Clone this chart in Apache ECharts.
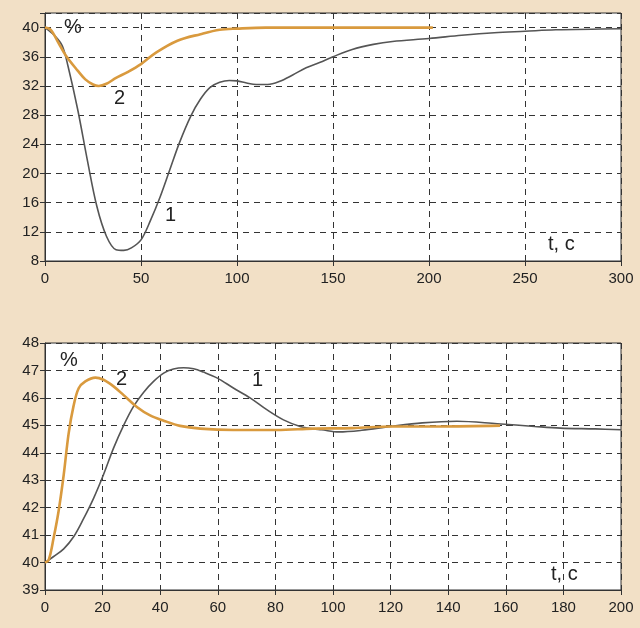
<!DOCTYPE html>
<html>
<head>
<meta charset="utf-8">
<script src="https://cdn.jsdelivr.net/npm/echarts@6/dist/echarts.min.js"></script>
<style>
  html, body { margin: 0; padding: 0; background: #f2e0c6; }
  #chart { width: 640px; height: 628px; }
</style>
</head>
<body>
<div id="chart"></div>
<script>
// top chart: drop from 40 %
var topT1 = [0, 5, 9, 12, 17, 22, 27, 32, 37, 41, 45, 50, 55, 60, 65, 70, 76, 81, 86, 91, 96, 100, 105, 110, 116, 122, 129, 136, 143, 150, 160, 171, 181, 200, 217, 234, 250, 266, 300];
var topY1 = [40, 38.9, 37.5, 34.7, 28.8, 21.9, 15.5, 11.4, 9.55, 9.46, 9.8, 10.9, 13.6, 16.8, 20.5, 24.2, 27.9, 30.2, 31.8, 32.5, 32.75, 32.7, 32.4, 32.2, 32.2, 32.6, 33.5, 34.5, 35.2, 36.0, 37.0, 37.7, 38.1, 38.5, 38.95, 39.3, 39.5, 39.7, 39.85];
var topT2 = [0, 3, 7, 11, 17, 21, 25, 28, 32, 37, 43, 50, 58, 69, 81, 91, 100, 115, 150, 202];
var topY2 = [40, 39.7, 37.9, 36.1, 34.1, 32.9, 32.2, 32.0, 32.3, 33.1, 33.9, 35.0, 36.6, 38.2, 39.1, 39.7, 39.86, 40, 40, 40];

// bottom chart: rise from 40 %
var botT1 = [0, 3, 6.5, 10, 13.4, 16.9, 20.3, 23.8, 27.3, 30.8, 34.2, 37.7, 41.2, 44.6, 48.1, 51.6, 55, 59.7, 65.4, 71.2, 77, 82.8, 88.6, 93.2, 96, 102, 110, 120, 131, 143, 157, 170, 179, 191, 200];
var botY1 = [40, 40.22, 40.5, 40.95, 41.6, 42.35, 43.2, 44.17, 45.0, 45.7, 46.2, 46.6, 46.9, 47.05, 47.1, 47.06, 46.94, 46.73, 46.36, 46.0, 45.57, 45.2, 44.96, 44.87, 44.84, 44.76, 44.82, 44.96, 45.09, 45.15, 45.06, 44.96, 44.9, 44.87, 44.84];
var botT2 = [0, 1.3, 3, 4.7, 6.5, 8.2, 9.9, 11.7, 14, 17.5, 20.3, 23.8, 27.3, 31.9, 36.5, 41.2, 46.9, 53.9, 65.4, 80.5, 93, 107, 120, 137, 158];
var botY2 = [40, 40.1, 40.9, 41.86, 43.2, 44.7, 45.7, 46.35, 46.6, 46.74, 46.66, 46.42, 46.1, 45.67, 45.36, 45.17, 44.98, 44.88, 44.83, 44.83, 44.88, 44.9, 44.96, 44.96, 44.99];

function pairs(xs, ys) {
  return xs.map(function (x, i) { return [x, ys[i]]; });
}

var chart = echarts.init(document.getElementById('chart'));

var gridStyle = { show: true, backgroundColor: '#ffffff', borderColor: '#333', borderWidth: 1 };
var dash = { color: '#333', width: 1, type: [6, 5] };
var labelStyle = { color: '#222', fontSize: 15, fontFamily: 'Liberation Sans, Arial, sans-serif' };

function xAxisOf(gi, max, step) {
  return {
    gridIndex: gi, type: 'value', min: 0, max: max, interval: step,
    axisLine: { show: true, lineStyle: { color: '#333' } },
    axisTick: { show: true, inside: false, length: 5, lineStyle: { color: '#333' } },
    axisLabel: Object.assign({ margin: 10 }, labelStyle),
    splitLine: { show: true, lineStyle: dash }
  };
}
function yAxisOf(gi, min, max, step, hideTop) {
  return {
    gridIndex: gi, type: 'value', min: min, max: max, interval: step,
    axisLine: { show: true, lineStyle: { color: '#333' } },
    axisTick: { show: true, length: 5, lineStyle: { color: '#333' } },
    axisLabel: Object.assign({
      margin: 6,
      formatter: function (v) { return (hideTop && v === max) ? '' : v; }
    }, labelStyle),
    splitLine: { show: true, lineStyle: dash }
  };
}

function curve(ax, xs, ys, color, w, z) {
  return {
    type: 'line', xAxisIndex: ax, yAxisIndex: ax, data: pairs(xs, ys),
    showSymbol: false, smooth: 0.35, lineStyle: { color: color, width: w }, z: z
  };
}

var option = {
  backgroundColor: '#f2e0c6',
  animation: false,
  grid: [
    Object.assign({ left: 45, top: 13, width: 576, height: 248 }, gridStyle),
    Object.assign({ left: 45, top: 343, width: 576, height: 247 }, gridStyle)
  ],
  xAxis: [xAxisOf(0, 300, 50), xAxisOf(1, 200, 20)],
  yAxis: [yAxisOf(0, 8, 42, 4, true), yAxisOf(1, 39, 48, 1, false)],
  series: [
    curve(0, topT1, topY1, '#555555', 1.6, 3),
    curve(0, topT2, topY2, '#d99a3e', 2.6, 4),
    curve(1, botT1, botY1, '#555555', 1.6, 3),
    curve(1, botT2, botY2, '#d99a3e', 2.6, 4)
  ],
  graphic: [
    { type: 'text', left: 64, top: 17, style: { text: '%', fill: '#222', font: '20px Liberation Sans' } },
    { type: 'text', left: 114, top: 88, style: { text: '2', fill: '#222', font: '20px Liberation Sans' } },
    { type: 'text', left: 165, top: 205, style: { text: '1', fill: '#222', font: '20px Liberation Sans' } },
    { type: 'text', left: 548, top: 234, style: { text: 't, c', fill: '#222', font: '20px Liberation Sans' } },
    { type: 'text', left: 60, top: 350, style: { text: '%', fill: '#222', font: '20px Liberation Sans' } },
    { type: 'text', left: 116, top: 369, style: { text: '2', fill: '#222', font: '20px Liberation Sans' } },
    { type: 'text', left: 252, top: 370, style: { text: '1', fill: '#222', font: '20px Liberation Sans' } },
    { type: 'text', left: 551, top: 564, style: { text: 't, c', fill: '#222', font: '20px Liberation Sans' } }
  ]
};
chart.setOption(option);
</script>
</body>
</html>
